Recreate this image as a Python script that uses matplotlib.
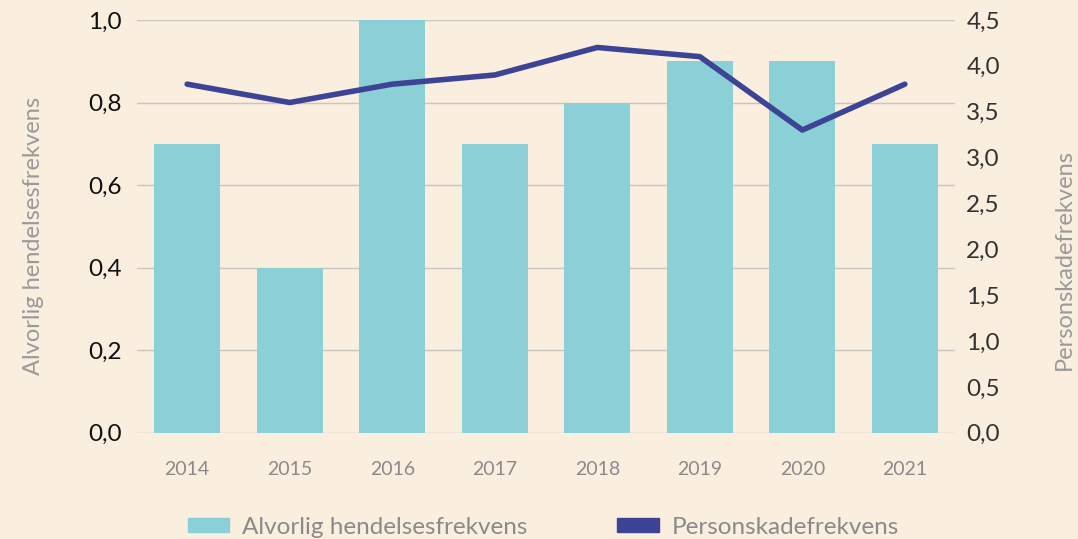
import matplotlib.pyplot as plt
from matplotlib.patches import Patch
from matplotlib.ticker import FuncFormatter

plt.rcParams['font.family'] = ['Lato', 'DejaVu Sans']

aar = ['2014', '2015', '2016', '2017', '2018', '2019', '2020', '2021']
alvorlig = [0.7, 0.4, 1.0, 0.7, 0.8, 0.9, 0.9, 0.7]
personskade = [3.8, 3.6, 3.8, 3.9, 4.2, 4.1, 3.3, 3.8]

bg = '#FAEEDF'
bar_farge = '#8BD0D6'
linje_farge = '#3D4496'

komma = FuncFormatter(lambda v, p: f'{v:.1f}'.replace('.', ','))

fig = plt.figure(figsize=(10.78, 5.39), dpi=100, facecolor=bg)
ax = fig.add_axes([0.127, 0.197, 0.759, 0.766], facecolor=bg)
x = range(len(aar))
ax.bar(x, alvorlig, width=0.645, color=bar_farge, zorder=2)
ax.set_xlim(-0.49, 7.49)
ax.set_ylim(0, 1.0)
ax.set_yticks([0, 0.2, 0.4, 0.6, 0.8, 1.0])
ax.yaxis.set_major_formatter(komma)
ax.set_xticks(list(x))
ax.set_xticklabels(aar)
ax.grid(axis='y', color='#C8C4BE', linewidth=1, zorder=0)
ax.tick_params(axis='y', length=0, labelsize=17.5, labelcolor='#111111', pad=11)
ax.tick_params(axis='x', length=0, labelsize=14, labelcolor='#8A8A8A', pad=20)
ax.set_ylabel('Alvorlig hendelsesfrekvens', fontsize=17, color='#9A9A9A')
ax.yaxis.set_label_coords(-0.113, 0.477)
for s in ax.spines.values():
    s.set_visible(False)

ax2 = ax.twinx()
ax2.plot(list(x), personskade, color=linje_farge, linewidth=4, solid_capstyle='round', zorder=3)
ax2.set_ylim(0, 4.5)
ax2.set_yticks([0, 0.5, 1.0, 1.5, 2.0, 2.5, 3.0, 3.5, 4.0, 4.5])
ax2.yaxis.set_major_formatter(komma)
ax2.tick_params(axis='y', length=0, labelsize=17.5, labelcolor='#333333', pad=8)
ax2.set_ylabel('Personskadefrekvens', fontsize=17, color='#9A9A9A')
ax2.yaxis.set_label_coords(1.121, 0.419)
for s in ax2.spines.values():
    s.set_visible(False)

handles = [Patch(color=bar_farge, label='Alvorlig hendelsesfrekvens'),
           Patch(color=linje_farge, label='Personskadefrekvens')]
fig.legend(handles=handles, loc='center', bbox_to_anchor=(0.504, 0.022), ncol=2,
           frameon=False, fontsize=17.5, labelcolor='#8A8A8A', columnspacing=3.7,
           handlelength=1.7, handleheight=0.53, handletextpad=0.53)

fig.savefig('out.png', dpi=100, facecolor=bg)
